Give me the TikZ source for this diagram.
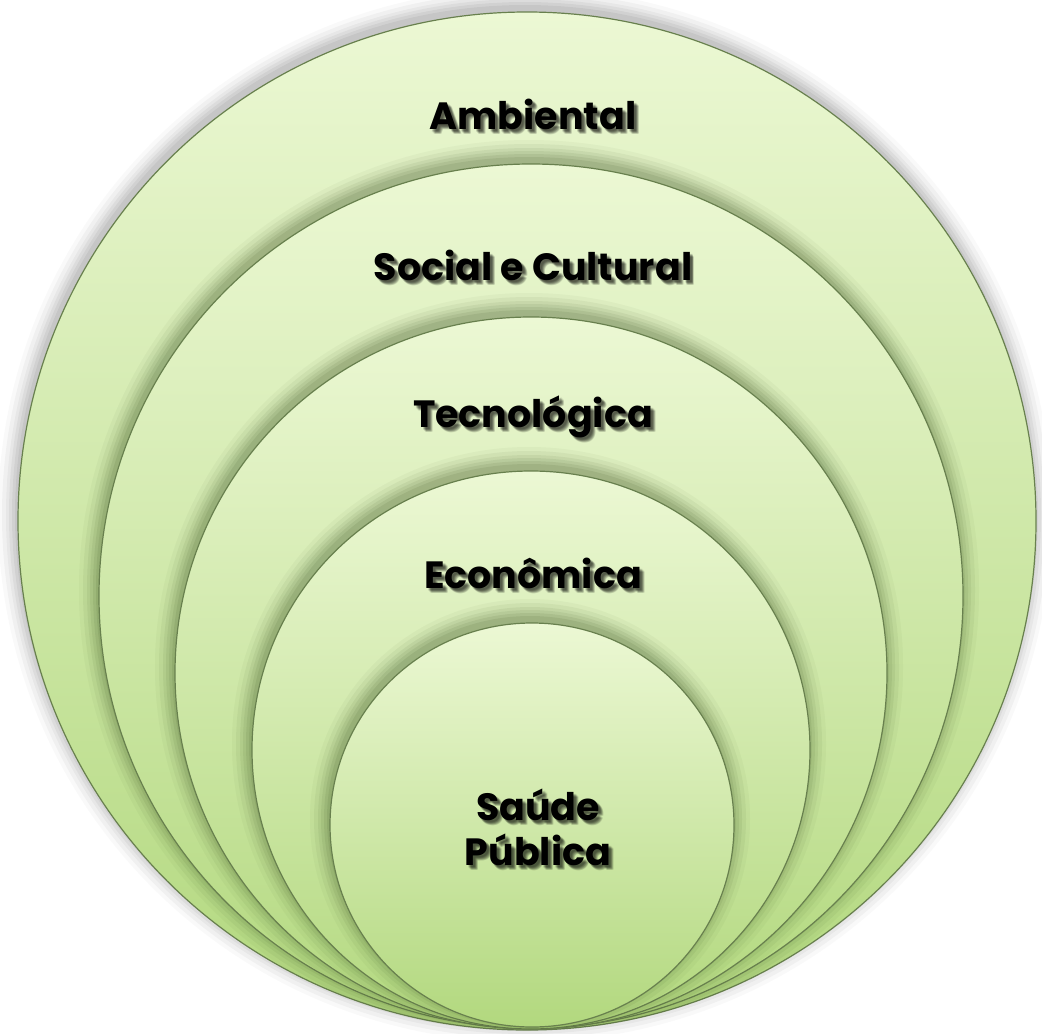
\documentclass[tikz,border=0pt]{standalone}
\usepackage{fontspec}
\newfontfamily\lblfont{Poppins}
\definecolor{ringtop}{RGB}{236,248,212}
\definecolor{ringbot}{RGB}{178,216,126}
\definecolor{edgegreen}{RGB}{104,128,78}
\definecolor{outershadow}{RGB}{100,100,100}
\definecolor{innershadow}{RGB}{55,80,30}
% soft shadow around a disc: #1 cx, #2 cy, #3 radius, #4 colour
\newcommand\discshadow[4]{%
  \foreach \k/\op in {18/0.04,14/0.06,10/0.07,7/0.08,4/0.09,1/0.10}{%
    \fill[#4, opacity=\op] (#1-2,#2-6) circle [radius={(#3+\k)*0.5pt}];
  }%
}
% one shaded disc with its outline
\newcommand\disc[3]{%
  \shade[top color=ringtop, bottom color=ringbot] (#1,#2) circle [radius={#3*0.5pt}];
  \draw[ring] (#1,#2) circle [radius={#3*0.5pt}];
}
\begin{document}
\begin{tikzpicture}[x=0.5pt,y=-0.5pt,
  ring/.style={draw=edgegreen, line width=0.6pt},
  lbl/.style={font=\lblfont\bfseries\fontsize{19}{22.5}\selectfont, align=center, text=black, inner sep=0pt},
  lblshadow/.style={lbl, text=black, opacity=0.09}]
\useasboundingbox (0,0) rectangle (1042,1033);

% outer disc
\discshadow{527}{521}{509}{outershadow}
\disc{527}{521}{509}

% nested discs, each shadow kept inside its parent
\begin{scope}
  \clip (527,521) circle [radius=254.5pt];
  \discshadow{531}{596}{432}{innershadow}
\end{scope}
\disc{531}{596}{432}

\begin{scope}
  \clip (531,596) circle [radius=216pt];
  \discshadow{531}{673}{356}{innershadow}
\end{scope}
\disc{531}{673}{356}

\begin{scope}
  \clip (531,673) circle [radius=178pt];
  \discshadow{531}{750}{279}{innershadow}
\end{scope}
\disc{531}{750}{279}

\begin{scope}
  \clip (531,750) circle [radius=139.5pt];
  \discshadow{532}{825}{202}{innershadow}
\end{scope}
\disc{532}{825}{202}

% labels with soft drop shadows
\foreach \dx/\dy in {2/2,3/3,4/4,5/5,3/2,2/3,4/3,3/4,5/4,4/5}{
  \node[lblshadow] at (533+\dx,114+\dy) {Ambiental};
  \node[lblshadow] at (533+\dx,265+\dy) {Social e Cultural};
  \node[lblshadow] at (533+\dx,417+\dy) {Tecnológica};
  \node[lblshadow] at (533+\dx,573+\dy) {Econômica};
  \node[lblshadow] at (538+\dx,827+\dy) {Saúde\\Pública};
}
\node[lbl] (amb) at (533,114) {Ambiental};
\node[lbl] (soc) at (533,265) {Social e Cultural};
\node[lbl] (tec) at (533,417) {Tecnológica};
\node[lbl] (eco) at (533,573) {Econômica};
\node[lbl] (sau) at (538,827) {Saúde\\Pública};
\end{tikzpicture}
\end{document}
